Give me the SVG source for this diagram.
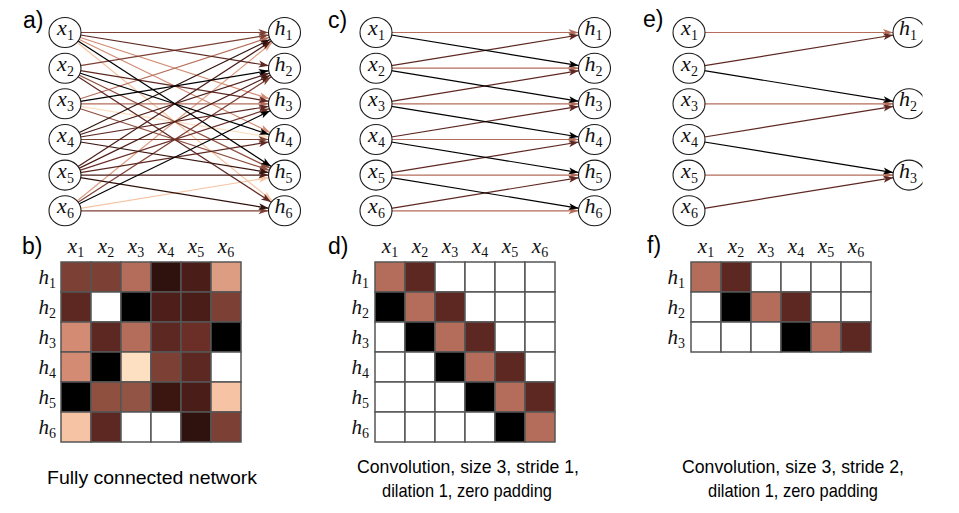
<svg xmlns="http://www.w3.org/2000/svg" width="959" height="513" viewBox="0 0 959 513">
<style>
.e{fill:none;stroke-width:1.2}
.k{stroke:#000;marker-end:url(#mk)}
.c1{stroke:#2f120d;marker-end:url(#m1)}
.c2{stroke:#3b150f;marker-end:url(#m2)}
.c3{stroke:#4b1d18;marker-end:url(#m3)}
.c5{stroke:#5e2822;marker-end:url(#m5)}
.c6{stroke:#6b2f28;marker-end:url(#m6)}
.c7{stroke:#7d4035;marker-end:url(#m7)}
.c8{stroke:#8f5040;marker-end:url(#m8)}
.c10{stroke:#b46d5b;marker-end:url(#m10)}
.c11{stroke:#d38b73;marker-end:url(#m11)}
.c12{stroke:#dd9d82;marker-end:url(#m12)}
.c13{stroke:#f6c4a4;marker-end:url(#m13)}
.c14{stroke:#fde0c2;marker-end:url(#m14)}
.n ellipse{fill:#fff;stroke:#1a1a1a;stroke-width:1.1}
.m{font-family:"Liberation Serif",serif;font-style:italic;font-size:22px;fill:#111}
.ml{font-family:"Liberation Serif",serif;font-style:italic;font-size:21px;fill:#111}
.s{font-style:normal;font-size:14px}
.pl{font-family:"Liberation Sans",Arial,sans-serif;font-size:23px;fill:#000}
.cap{font-family:"Liberation Sans",Arial,sans-serif;font-size:19px;fill:#000;text-anchor:middle}
.g rect{stroke:#555;stroke-width:1.5}
</style>
<defs>
<marker id="mk" markerUnits="userSpaceOnUse" markerWidth="26" markerHeight="7" refX="26" refY="3.5" orient="auto" overflow="visible"><path d="M0,0 L10,3.5 L0,7 L2.5,3.5 Z" fill="#000"/></marker>
<marker id="m1" markerUnits="userSpaceOnUse" markerWidth="26" markerHeight="7" refX="26" refY="3.5" orient="auto" overflow="visible"><path d="M0,0 L10,3.5 L0,7 L2.5,3.5 Z" fill="#2f120d"/></marker>
<marker id="m2" markerUnits="userSpaceOnUse" markerWidth="26" markerHeight="7" refX="26" refY="3.5" orient="auto" overflow="visible"><path d="M0,0 L10,3.5 L0,7 L2.5,3.5 Z" fill="#3b150f"/></marker>
<marker id="m3" markerUnits="userSpaceOnUse" markerWidth="26" markerHeight="7" refX="26" refY="3.5" orient="auto" overflow="visible"><path d="M0,0 L10,3.5 L0,7 L2.5,3.5 Z" fill="#4b1d18"/></marker>
<marker id="m5" markerUnits="userSpaceOnUse" markerWidth="26" markerHeight="7" refX="26" refY="3.5" orient="auto" overflow="visible"><path d="M0,0 L10,3.5 L0,7 L2.5,3.5 Z" fill="#5e2822"/></marker>
<marker id="m6" markerUnits="userSpaceOnUse" markerWidth="26" markerHeight="7" refX="26" refY="3.5" orient="auto" overflow="visible"><path d="M0,0 L10,3.5 L0,7 L2.5,3.5 Z" fill="#6b2f28"/></marker>
<marker id="m7" markerUnits="userSpaceOnUse" markerWidth="26" markerHeight="7" refX="26" refY="3.5" orient="auto" overflow="visible"><path d="M0,0 L10,3.5 L0,7 L2.5,3.5 Z" fill="#7d4035"/></marker>
<marker id="m8" markerUnits="userSpaceOnUse" markerWidth="26" markerHeight="7" refX="26" refY="3.5" orient="auto" overflow="visible"><path d="M0,0 L10,3.5 L0,7 L2.5,3.5 Z" fill="#8f5040"/></marker>
<marker id="m10" markerUnits="userSpaceOnUse" markerWidth="26" markerHeight="7" refX="26" refY="3.5" orient="auto" overflow="visible"><path d="M0,0 L10,3.5 L0,7 L2.5,3.5 Z" fill="#b46d5b"/></marker>
<marker id="m11" markerUnits="userSpaceOnUse" markerWidth="26" markerHeight="7" refX="26" refY="3.5" orient="auto" overflow="visible"><path d="M0,0 L10,3.5 L0,7 L2.5,3.5 Z" fill="#d38b73"/></marker>
<marker id="m12" markerUnits="userSpaceOnUse" markerWidth="26" markerHeight="7" refX="26" refY="3.5" orient="auto" overflow="visible"><path d="M0,0 L10,3.5 L0,7 L2.5,3.5 Z" fill="#dd9d82"/></marker>
<marker id="m13" markerUnits="userSpaceOnUse" markerWidth="26" markerHeight="7" refX="26" refY="3.5" orient="auto" overflow="visible"><path d="M0,0 L10,3.5 L0,7 L2.5,3.5 Z" fill="#f6c4a4"/></marker>
<marker id="m14" markerUnits="userSpaceOnUse" markerWidth="26" markerHeight="7" refX="26" refY="3.5" orient="auto" overflow="visible"><path d="M0,0 L10,3.5 L0,7 L2.5,3.5 Z" fill="#fde0c2"/></marker>
<clipPath id="clipE"><rect x="0" y="0" width="922.5" height="513"/></clipPath>
</defs>
<rect width="959" height="513" fill="#fff"/>

<!-- panel labels -->
<text class="pl" x="23" y="28">a)</text>
<text class="pl" x="22" y="253.5">b)</text>
<text class="pl" x="328" y="28">c)</text>
<text class="pl" x="328" y="253.5">d)</text>
<text class="pl" x="643" y="27">e)</text>
<text class="pl" x="647" y="253">f)</text>

<!-- connectors -->
<g id="connectors">
 <g id="edges-a">
  <line class="e c14" x1="65" y1="103.8" x2="284.5" y2="139.5"/>
  <line class="e c13" x1="65" y1="32.5" x2="284.5" y2="210.8"/>
  <line class="e c13" x1="65" y1="210.8" x2="284.5" y2="175.1"/>
  <line class="e c12" x1="65" y1="210.8" x2="284.5" y2="32.5"/>
  <line class="e c11" x1="65" y1="32.5" x2="284.5" y2="103.8"/>
  <line class="e c11" x1="65" y1="32.5" x2="284.5" y2="139.5"/>
  <line class="e c10" x1="65" y1="103.8" x2="284.5" y2="32.5"/>
  <line class="e c10" x1="65" y1="103.8" x2="284.5" y2="103.8"/>
  <line class="e c8" x1="65" y1="68.2" x2="284.5" y2="175.1"/>
  <line class="e c8" x1="65" y1="103.8" x2="284.5" y2="175.1"/>
  <line class="e c7" x1="65" y1="32.5" x2="284.5" y2="32.5"/>
  <line class="e c7" x1="65" y1="68.2" x2="284.5" y2="32.5"/>
  <line class="e c7" x1="65" y1="139.5" x2="284.5" y2="139.5"/>
  <line class="e c7" x1="65" y1="210.8" x2="284.5" y2="68.2"/>
  <line class="e c7" x1="65" y1="210.8" x2="284.5" y2="210.8"/>
  <line class="e c6" x1="65" y1="175.1" x2="284.5" y2="103.8"/>
  <line class="e c5" x1="65" y1="32.5" x2="284.5" y2="68.2"/>
  <line class="e c5" x1="65" y1="68.2" x2="284.5" y2="103.8"/>
  <line class="e c5" x1="65" y1="68.2" x2="284.5" y2="210.8"/>
  <line class="e c5" x1="65" y1="139.5" x2="284.5" y2="103.8"/>
  <line class="e c5" x1="65" y1="175.1" x2="284.5" y2="139.5"/>
  <line class="e c3" x1="65" y1="139.5" x2="284.5" y2="68.2"/>
  <line class="e c3" x1="65" y1="175.1" x2="284.5" y2="32.5"/>
  <line class="e c3" x1="65" y1="175.1" x2="284.5" y2="68.2"/>
  <line class="e c3" x1="65" y1="175.1" x2="284.5" y2="175.1"/>
  <line class="e c2" x1="65" y1="139.5" x2="284.5" y2="175.1"/>
  <line class="e c1" x1="65" y1="139.5" x2="284.5" y2="32.5"/>
  <line class="e c1" x1="65" y1="175.1" x2="284.5" y2="210.8"/>
  <line class="e k" x1="65" y1="32.5" x2="284.5" y2="175.1"/>
  <line class="e k" x1="65" y1="68.2" x2="284.5" y2="139.5"/>
  <line class="e k" x1="65" y1="103.8" x2="284.5" y2="68.2"/>
  <line class="e k" x1="65" y1="210.8" x2="284.5" y2="103.8"/>
 </g>
 <g id="edges-c">
  <line class="e c10" x1="376" y1="32.5" x2="594.5" y2="32.5"/>
  <line class="e c10" x1="376" y1="68.2" x2="594.5" y2="68.2"/>
  <line class="e c10" x1="376" y1="103.8" x2="594.5" y2="103.8"/>
  <line class="e c10" x1="376" y1="139.5" x2="594.5" y2="139.5"/>
  <line class="e c10" x1="376" y1="175.1" x2="594.5" y2="175.1"/>
  <line class="e c10" x1="376" y1="210.8" x2="594.5" y2="210.8"/>
  <line class="e c5" x1="376" y1="68.2" x2="594.5" y2="32.5"/>
  <line class="e c5" x1="376" y1="103.8" x2="594.5" y2="68.2"/>
  <line class="e c5" x1="376" y1="139.5" x2="594.5" y2="103.8"/>
  <line class="e c5" x1="376" y1="175.1" x2="594.5" y2="139.5"/>
  <line class="e c5" x1="376" y1="210.8" x2="594.5" y2="175.1"/>
  <line class="e k" x1="376" y1="32.5" x2="594.5" y2="68.2"/>
  <line class="e k" x1="376" y1="68.2" x2="594.5" y2="103.8"/>
  <line class="e k" x1="376" y1="103.8" x2="594.5" y2="139.5"/>
  <line class="e k" x1="376" y1="139.5" x2="594.5" y2="175.1"/>
  <line class="e k" x1="376" y1="175.1" x2="594.5" y2="210.8"/>
 </g>
 <g id="edges-e">
  <line class="e c10" x1="689" y1="32.5" x2="909" y2="32.5"/>
  <line class="e c10" x1="689" y1="103.8" x2="909" y2="103.8"/>
  <line class="e c10" x1="689" y1="175.1" x2="909" y2="175.1"/>
  <line class="e c5" x1="689" y1="68.2" x2="909" y2="32.5"/>
  <line class="e c5" x1="689" y1="139.5" x2="909" y2="103.8"/>
  <line class="e c5" x1="689" y1="210.8" x2="909" y2="175.1"/>
  <line class="e k" x1="689" y1="68.2" x2="909" y2="103.8"/>
  <line class="e k" x1="689" y1="139.5" x2="909" y2="175.1"/>
 </g>
</g>

<!-- panel a nodes -->
<g id="a-x1" class="n"><ellipse cx="65" cy="32.5" rx="16" ry="15"/><text class="m" x="65.5" y="35" text-anchor="middle">x<tspan class="s" dy="5">1</tspan></text></g>
<g id="a-x2" class="n"><ellipse cx="65" cy="68.2" rx="16" ry="15"/><text class="m" x="65.5" y="70.7" text-anchor="middle">x<tspan class="s" dy="5">2</tspan></text></g>
<g id="a-x3" class="n"><ellipse cx="65" cy="103.8" rx="16" ry="15"/><text class="m" x="65.5" y="106.3" text-anchor="middle">x<tspan class="s" dy="5">3</tspan></text></g>
<g id="a-x4" class="n"><ellipse cx="65" cy="139.5" rx="16" ry="15"/><text class="m" x="65.5" y="142" text-anchor="middle">x<tspan class="s" dy="5">4</tspan></text></g>
<g id="a-x5" class="n"><ellipse cx="65" cy="175.1" rx="16" ry="15"/><text class="m" x="65.5" y="177.6" text-anchor="middle">x<tspan class="s" dy="5">5</tspan></text></g>
<g id="a-x6" class="n"><ellipse cx="65" cy="210.8" rx="16" ry="15"/><text class="m" x="65.5" y="213.3" text-anchor="middle">x<tspan class="s" dy="5">6</tspan></text></g>
<g id="a-h1" class="n"><ellipse cx="284.5" cy="32.5" rx="16" ry="15"/><text class="m" x="283.5" y="35" text-anchor="middle">h<tspan class="s" dy="5">1</tspan></text></g>
<g id="a-h2" class="n"><ellipse cx="284.5" cy="68.2" rx="16" ry="15"/><text class="m" x="283.5" y="70.7" text-anchor="middle">h<tspan class="s" dy="5">2</tspan></text></g>
<g id="a-h3" class="n"><ellipse cx="284.5" cy="103.8" rx="16" ry="15"/><text class="m" x="283.5" y="106.3" text-anchor="middle">h<tspan class="s" dy="5">3</tspan></text></g>
<g id="a-h4" class="n"><ellipse cx="284.5" cy="139.5" rx="16" ry="15"/><text class="m" x="283.5" y="142" text-anchor="middle">h<tspan class="s" dy="5">4</tspan></text></g>
<g id="a-h5" class="n"><ellipse cx="284.5" cy="175.1" rx="16" ry="15"/><text class="m" x="283.5" y="177.6" text-anchor="middle">h<tspan class="s" dy="5">5</tspan></text></g>
<g id="a-h6" class="n"><ellipse cx="284.5" cy="210.8" rx="16" ry="15"/><text class="m" x="283.5" y="213.3" text-anchor="middle">h<tspan class="s" dy="5">6</tspan></text></g>

<!-- panel c nodes -->
<g id="c-x1" class="n"><ellipse cx="376" cy="32.5" rx="16" ry="15"/><text class="m" x="376.5" y="35" text-anchor="middle">x<tspan class="s" dy="5">1</tspan></text></g>
<g id="c-x2" class="n"><ellipse cx="376" cy="68.2" rx="16" ry="15"/><text class="m" x="376.5" y="70.7" text-anchor="middle">x<tspan class="s" dy="5">2</tspan></text></g>
<g id="c-x3" class="n"><ellipse cx="376" cy="103.8" rx="16" ry="15"/><text class="m" x="376.5" y="106.3" text-anchor="middle">x<tspan class="s" dy="5">3</tspan></text></g>
<g id="c-x4" class="n"><ellipse cx="376" cy="139.5" rx="16" ry="15"/><text class="m" x="376.5" y="142" text-anchor="middle">x<tspan class="s" dy="5">4</tspan></text></g>
<g id="c-x5" class="n"><ellipse cx="376" cy="175.1" rx="16" ry="15"/><text class="m" x="376.5" y="177.6" text-anchor="middle">x<tspan class="s" dy="5">5</tspan></text></g>
<g id="c-x6" class="n"><ellipse cx="376" cy="210.8" rx="16" ry="15"/><text class="m" x="376.5" y="213.3" text-anchor="middle">x<tspan class="s" dy="5">6</tspan></text></g>
<g id="c-h1" class="n"><ellipse cx="594.5" cy="32.5" rx="16" ry="15"/><text class="m" x="593.5" y="35" text-anchor="middle">h<tspan class="s" dy="5">1</tspan></text></g>
<g id="c-h2" class="n"><ellipse cx="594.5" cy="68.2" rx="16" ry="15"/><text class="m" x="593.5" y="70.7" text-anchor="middle">h<tspan class="s" dy="5">2</tspan></text></g>
<g id="c-h3" class="n"><ellipse cx="594.5" cy="103.8" rx="16" ry="15"/><text class="m" x="593.5" y="106.3" text-anchor="middle">h<tspan class="s" dy="5">3</tspan></text></g>
<g id="c-h4" class="n"><ellipse cx="594.5" cy="139.5" rx="16" ry="15"/><text class="m" x="593.5" y="142" text-anchor="middle">h<tspan class="s" dy="5">4</tspan></text></g>
<g id="c-h5" class="n"><ellipse cx="594.5" cy="175.1" rx="16" ry="15"/><text class="m" x="593.5" y="177.6" text-anchor="middle">h<tspan class="s" dy="5">5</tspan></text></g>
<g id="c-h6" class="n"><ellipse cx="594.5" cy="210.8" rx="16" ry="15"/><text class="m" x="593.5" y="213.3" text-anchor="middle">h<tspan class="s" dy="5">6</tspan></text></g>

<!-- panel e nodes -->
<g id="e-x1" class="n"><ellipse cx="689" cy="32.5" rx="16" ry="15"/><text class="m" x="689.5" y="35" text-anchor="middle">x<tspan class="s" dy="5">1</tspan></text></g>
<g id="e-x2" class="n"><ellipse cx="689" cy="68.2" rx="16" ry="15"/><text class="m" x="689.5" y="70.7" text-anchor="middle">x<tspan class="s" dy="5">2</tspan></text></g>
<g id="e-x3" class="n"><ellipse cx="689" cy="103.8" rx="16" ry="15"/><text class="m" x="689.5" y="106.3" text-anchor="middle">x<tspan class="s" dy="5">3</tspan></text></g>
<g id="e-x4" class="n"><ellipse cx="689" cy="139.5" rx="16" ry="15"/><text class="m" x="689.5" y="142" text-anchor="middle">x<tspan class="s" dy="5">4</tspan></text></g>
<g id="e-x5" class="n"><ellipse cx="689" cy="175.1" rx="16" ry="15"/><text class="m" x="689.5" y="177.6" text-anchor="middle">x<tspan class="s" dy="5">5</tspan></text></g>
<g id="e-x6" class="n"><ellipse cx="689" cy="210.8" rx="16" ry="15"/><text class="m" x="689.5" y="213.3" text-anchor="middle">x<tspan class="s" dy="5">6</tspan></text></g>
<g id="e-h1" class="n" clip-path="url(#clipE)"><ellipse cx="909" cy="32.5" rx="16" ry="15"/><text class="m" x="908" y="35" text-anchor="middle">h<tspan class="s" dy="5">1</tspan></text></g>
<g id="e-h2" class="n" clip-path="url(#clipE)"><ellipse cx="909" cy="103.8" rx="16" ry="15"/><text class="m" x="908" y="106.3" text-anchor="middle">h<tspan class="s" dy="5">2</tspan></text></g>
<g id="e-h3" class="n" clip-path="url(#clipE)"><ellipse cx="909" cy="175.1" rx="16" ry="15"/><text class="m" x="908" y="177.6" text-anchor="middle">h<tspan class="s" dy="5">3</tspan></text></g>

<!-- matrix b -->
<g id="matrix-b">
 <g class="ml" text-anchor="middle">
  <text x="76" y="253">x<tspan class="s" dy="4">1</tspan></text>
  <text x="106" y="253">x<tspan class="s" dy="4">2</tspan></text>
  <text x="136" y="253">x<tspan class="s" dy="4">3</tspan></text>
  <text x="166" y="253">x<tspan class="s" dy="4">4</tspan></text>
  <text x="196" y="253">x<tspan class="s" dy="4">5</tspan></text>
  <text x="226" y="253">x<tspan class="s" dy="4">6</tspan></text>
 </g>
 <g class="ml" text-anchor="end">
  <text x="56" y="284">h<tspan class="s" dy="4">1</tspan></text>
  <text x="56" y="314">h<tspan class="s" dy="4">2</tspan></text>
  <text x="56" y="344">h<tspan class="s" dy="4">3</tspan></text>
  <text x="56" y="374">h<tspan class="s" dy="4">4</tspan></text>
  <text x="56" y="404">h<tspan class="s" dy="4">5</tspan></text>
  <text x="56" y="434">h<tspan class="s" dy="4">6</tspan></text>
 </g>
 <g class="g">
  <rect x="61" y="262" width="30" height="30" fill="#7d4035"/>
  <rect x="91" y="262" width="30" height="30" fill="#7d4035"/>
  <rect x="121" y="262" width="30" height="30" fill="#b46d5b"/>
  <rect x="151" y="262" width="30" height="30" fill="#2f120d"/>
  <rect x="181" y="262" width="30" height="30" fill="#4b1d18"/>
  <rect x="211" y="262" width="30" height="30" fill="#dd9d82"/>
  <rect x="61" y="292" width="30" height="30" fill="#5e2822"/>
  <rect x="91" y="292" width="30" height="30" fill="#fff"/>
  <rect x="121" y="292" width="30" height="30" fill="#000"/>
  <rect x="151" y="292" width="30" height="30" fill="#4e1f1a"/>
  <rect x="181" y="292" width="30" height="30" fill="#4b1d18"/>
  <rect x="211" y="292" width="30" height="30" fill="#7d4035"/>
  <rect x="61" y="322" width="30" height="30" fill="#d38b73"/>
  <rect x="91" y="322" width="30" height="30" fill="#5e2822"/>
  <rect x="121" y="322" width="30" height="30" fill="#b46d5b"/>
  <rect x="151" y="322" width="30" height="30" fill="#5e2822"/>
  <rect x="181" y="322" width="30" height="30" fill="#6b2f28"/>
  <rect x="211" y="322" width="30" height="30" fill="#000"/>
  <rect x="61" y="352" width="30" height="30" fill="#d38b73"/>
  <rect x="91" y="352" width="30" height="30" fill="#000"/>
  <rect x="121" y="352" width="30" height="30" fill="#fde0c2"/>
  <rect x="151" y="352" width="30" height="30" fill="#7d4035"/>
  <rect x="181" y="352" width="30" height="30" fill="#5e2822"/>
  <rect x="211" y="352" width="30" height="30" fill="#fff"/>
  <rect x="61" y="382" width="30" height="30" fill="#000"/>
  <rect x="91" y="382" width="30" height="30" fill="#8f5040"/>
  <rect x="121" y="382" width="30" height="30" fill="#925444"/>
  <rect x="151" y="382" width="30" height="30" fill="#3b150f"/>
  <rect x="181" y="382" width="30" height="30" fill="#4b1d18"/>
  <rect x="211" y="382" width="30" height="30" fill="#f6c4a4"/>
  <rect x="61" y="412" width="30" height="30" fill="#f6c4a4"/>
  <rect x="91" y="412" width="30" height="30" fill="#5e2822"/>
  <rect x="121" y="412" width="30" height="30" fill="#fff"/>
  <rect x="151" y="412" width="30" height="30" fill="#fff"/>
  <rect x="181" y="412" width="30" height="30" fill="#2f120d"/>
  <rect x="211" y="412" width="30" height="30" fill="#7d4035"/>
 </g>
</g>

<!-- matrix d -->
<g id="matrix-d">
 <g class="ml" text-anchor="middle">
  <text x="390" y="253">x<tspan class="s" dy="4">1</tspan></text>
  <text x="420" y="253">x<tspan class="s" dy="4">2</tspan></text>
  <text x="450" y="253">x<tspan class="s" dy="4">3</tspan></text>
  <text x="480" y="253">x<tspan class="s" dy="4">4</tspan></text>
  <text x="510" y="253">x<tspan class="s" dy="4">5</tspan></text>
  <text x="540" y="253">x<tspan class="s" dy="4">6</tspan></text>
 </g>
 <g class="ml" text-anchor="end">
  <text x="369" y="284">h<tspan class="s" dy="4">1</tspan></text>
  <text x="369" y="314">h<tspan class="s" dy="4">2</tspan></text>
  <text x="369" y="344">h<tspan class="s" dy="4">3</tspan></text>
  <text x="369" y="374">h<tspan class="s" dy="4">4</tspan></text>
  <text x="369" y="404">h<tspan class="s" dy="4">5</tspan></text>
  <text x="369" y="434">h<tspan class="s" dy="4">6</tspan></text>
 </g>
 <g class="g" fill="#fff">
  <rect x="375" y="262" width="30" height="30" fill="#b46d5b"/>
  <rect x="405" y="262" width="30" height="30" fill="#5e2822"/>
  <rect x="435" y="262" width="30" height="30"/>
  <rect x="465" y="262" width="30" height="30"/>
  <rect x="495" y="262" width="30" height="30"/>
  <rect x="525" y="262" width="30" height="30"/>
  <rect x="375" y="292" width="30" height="30" fill="#000"/>
  <rect x="405" y="292" width="30" height="30" fill="#b46d5b"/>
  <rect x="435" y="292" width="30" height="30" fill="#5e2822"/>
  <rect x="465" y="292" width="30" height="30"/>
  <rect x="495" y="292" width="30" height="30"/>
  <rect x="525" y="292" width="30" height="30"/>
  <rect x="375" y="322" width="30" height="30"/>
  <rect x="405" y="322" width="30" height="30" fill="#000"/>
  <rect x="435" y="322" width="30" height="30" fill="#b46d5b"/>
  <rect x="465" y="322" width="30" height="30" fill="#5e2822"/>
  <rect x="495" y="322" width="30" height="30"/>
  <rect x="525" y="322" width="30" height="30"/>
  <rect x="375" y="352" width="30" height="30"/>
  <rect x="405" y="352" width="30" height="30"/>
  <rect x="435" y="352" width="30" height="30" fill="#000"/>
  <rect x="465" y="352" width="30" height="30" fill="#b46d5b"/>
  <rect x="495" y="352" width="30" height="30" fill="#5e2822"/>
  <rect x="525" y="352" width="30" height="30"/>
  <rect x="375" y="382" width="30" height="30"/>
  <rect x="405" y="382" width="30" height="30"/>
  <rect x="435" y="382" width="30" height="30"/>
  <rect x="465" y="382" width="30" height="30" fill="#000"/>
  <rect x="495" y="382" width="30" height="30" fill="#b46d5b"/>
  <rect x="525" y="382" width="30" height="30" fill="#5e2822"/>
  <rect x="375" y="412" width="30" height="30"/>
  <rect x="405" y="412" width="30" height="30"/>
  <rect x="435" y="412" width="30" height="30"/>
  <rect x="465" y="412" width="30" height="30"/>
  <rect x="495" y="412" width="30" height="30" fill="#000"/>
  <rect x="525" y="412" width="30" height="30" fill="#b46d5b"/>
 </g>
</g>

<!-- matrix f -->
<g id="matrix-f">
 <g class="ml" text-anchor="middle">
  <text x="706" y="253">x<tspan class="s" dy="4">1</tspan></text>
  <text x="736" y="253">x<tspan class="s" dy="4">2</tspan></text>
  <text x="766" y="253">x<tspan class="s" dy="4">3</tspan></text>
  <text x="796" y="253">x<tspan class="s" dy="4">4</tspan></text>
  <text x="826" y="253">x<tspan class="s" dy="4">5</tspan></text>
  <text x="856" y="253">x<tspan class="s" dy="4">6</tspan></text>
 </g>
 <g class="ml" text-anchor="end">
  <text x="685" y="284">h<tspan class="s" dy="4">1</tspan></text>
  <text x="685" y="314">h<tspan class="s" dy="4">2</tspan></text>
  <text x="685" y="344">h<tspan class="s" dy="4">3</tspan></text>
 </g>
 <g class="g" fill="#fff">
  <rect x="691" y="262" width="30" height="30" fill="#b46d5b"/>
  <rect x="721" y="262" width="30" height="30" fill="#5e2822"/>
  <rect x="751" y="262" width="30" height="30"/>
  <rect x="781" y="262" width="30" height="30"/>
  <rect x="811" y="262" width="30" height="30"/>
  <rect x="841" y="262" width="30" height="30"/>
  <rect x="691" y="292" width="30" height="30"/>
  <rect x="721" y="292" width="30" height="30" fill="#000"/>
  <rect x="751" y="292" width="30" height="30" fill="#b46d5b"/>
  <rect x="781" y="292" width="30" height="30" fill="#5e2822"/>
  <rect x="811" y="292" width="30" height="30"/>
  <rect x="841" y="292" width="30" height="30"/>
  <rect x="691" y="322" width="30" height="30"/>
  <rect x="721" y="322" width="30" height="30"/>
  <rect x="751" y="322" width="30" height="30"/>
  <rect x="781" y="322" width="30" height="30" fill="#000"/>
  <rect x="811" y="322" width="30" height="30" fill="#b46d5b"/>
  <rect x="841" y="322" width="30" height="30" fill="#5e2822"/>
 </g>
</g>

<!-- captions -->
<text class="cap" x="152" y="484" textLength="210" lengthAdjust="spacingAndGlyphs">Fully connected network</text>
<text class="cap" x="468" y="473" textLength="222" lengthAdjust="spacingAndGlyphs">Convolution, size 3, stride 1,</text>
<text class="cap" x="467" y="497" textLength="170" lengthAdjust="spacingAndGlyphs">dilation 1, zero padding</text>
<text class="cap" x="793" y="473" textLength="222" lengthAdjust="spacingAndGlyphs">Convolution, size 3, stride 2,</text>
<text class="cap" x="793" y="497" textLength="170" lengthAdjust="spacingAndGlyphs">dilation 1, zero padding</text>
</svg>
